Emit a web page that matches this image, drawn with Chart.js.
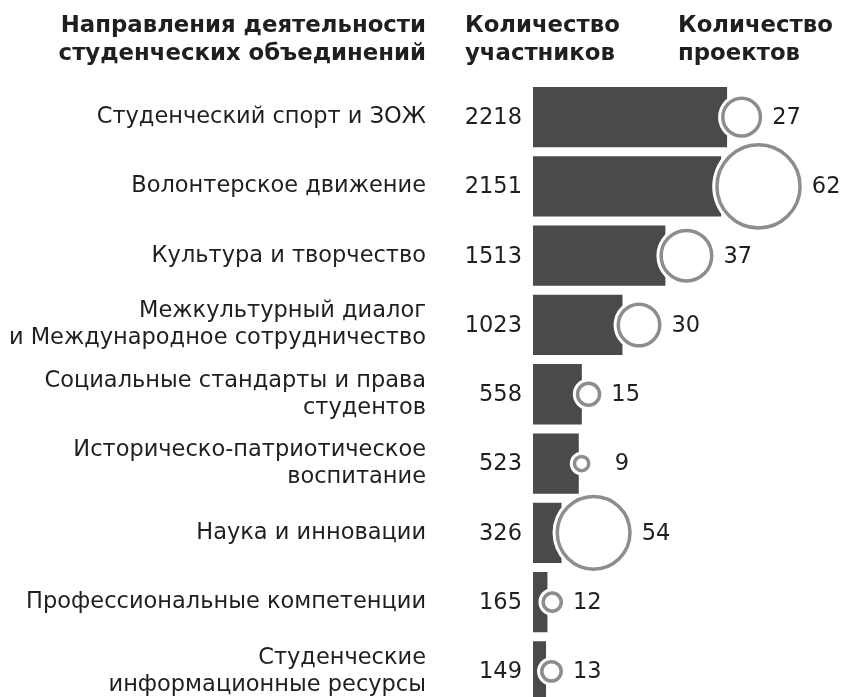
<!DOCTYPE html>
<html>
<head>
<meta charset="utf-8">
<script src="https://cdn.jsdelivr.net/npm/chart.js@4/dist/chart.umd.min.js"></script>
<style>
  html, body { margin: 0; padding: 0; background: #ffffff; overflow: hidden; }
  #wrap { width: 848px; height: 697px; overflow: hidden; }
  canvas { display: block; }
</style>
</head>
<body>
<div id="wrap"><canvas id="c" width="848" height="706"></canvas></div>
<script>
// ---- data ----
const categories = [
  'Студенческий спорт и ЗОЖ',
  'Волонтерское движение',
  'Культура и творчество',
  ['Межкультурный диалог', 'и Международное сотрудничество'],
  ['Социальные стандарты и права', 'студентов'],
  ['Историческо-патриотическое', 'воспитание'],
  'Наука и инновации',
  'Профессиональные компетенции',
  ['Студенческие', 'информационные ресурсы']
];
const participants = [2218, 2151, 1513, 1023, 558, 523, 326, 165, 149];
const projects = [27, 62, 37, 30, 15, 9, 54, 12, 13];
const headerCategory = ['Направления деятельности', 'студенческих объединений'];
const headerParticipants = ['Количество', 'участников'];
const headerProjects = ['Количество', 'проектов'];

// ---- styling ----
const FONT = "'DejaVu Sans', Verdana, sans-serif";
const TEXT = '#1f1f1f';
const BAR = '#4a4a4c';
const RING = '#8d8d8d';
const RING_W = 3.5;
const ringOuter = v => 3 + 0.65 * v;          // outer edge of grey ring
const ringShift = v => ringOuter(v) - 6;      // ring overlaps the bar end by 6px

const ringData = projects.map((v, i) => ({ x: participants[i], y: i, r: ringOuter(v) - RING_W / 2 }));
const haloData = projects.map((v, i) => ({ x: participants[i], y: i, r: ringOuter(v) + 3 }));

const shiftPlugin = {
  id: 'shift',
  afterDatasetsUpdate(chart) {
    chart.data.datasets.forEach((ds, di) => {
      if (ds.type !== 'bubble') return;
      const meta = chart.getDatasetMeta(di);
      meta.data.forEach((el, i) => { el.x += ringShift(projects[i]); });
    });
  }
};

const labelPlugin = {
  id: 'labels',
  afterDatasetsDraw(chart) {
    const ctx = chart.ctx;
    const xs = chart.scales.x, ys = chart.scales.y;
    ctx.save();
    ctx.fillStyle = TEXT;
    ctx.textBaseline = 'middle';
    ctx.font = '22.5px ' + FONT;
    const ringMeta = chart.getDatasetMeta(0);
    participants.forEach((v, i) => {
      const y = ys.getPixelForValue(i);
      ctx.textAlign = 'right';
      ctx.fillText(String(v), xs.getPixelForValue(0) - 11, y + 1);
      const el = ringMeta.data[i];
      ctx.textAlign = 'left';
      ctx.fillText(String(projects[i]).padStart(2, '\u2007'), el.x + ringOuter(projects[i]) + 10, y + 1);
    });
    // column headers
    ctx.font = 'bold 22.8px ' + FONT;
    ctx.textBaseline = 'alphabetic';
    const left = chart.chartArea.left;
    ctx.textAlign = 'right';
    headerCategory.forEach((t, k) => ctx.fillText(t, left - 107, 32 + k * 28));
    ctx.textAlign = 'left';
    headerParticipants.forEach((t, k) => ctx.fillText(t, left - 68, 32 + k * 28));
    headerProjects.forEach((t, k) => ctx.fillText(t, left + 145, 32 + k * 28));
    ctx.restore();
  }
};

new Chart(document.getElementById('c'), {
  data: {
    labels: categories,
    datasets: [
      { type: 'bubble', data: ringData, backgroundColor: '#ffffff', borderColor: RING, borderWidth: RING_W, order: 1 },
      { type: 'bubble', data: haloData, backgroundColor: '#ffffff', borderColor: '#ffffff', borderWidth: 0, order: 2 },
      { type: 'bar', data: participants, backgroundColor: BAR, borderWidth: 0,
        barPercentage: 0.87, categoryPercentage: 1, order: 3 }
    ]
  },
  options: {
    indexAxis: 'y',
    responsive: false,
    animation: false,
    events: [],
    layout: { autoPadding: false, padding: { top: 82.5, right: 0, bottom: 0, left: 0 } },
    plugins: { legend: { display: false }, tooltip: { enabled: false } },
    scales: {
      x: { type: 'linear', display: false, min: 0, max: 3600 },
      y: {
        type: 'category',
        offset: true,
        grid: { display: false, drawTicks: false },
        border: { display: false },
        afterFit(scale) { scale.width = 533; scale.paddingTop = 0; scale.paddingBottom = 0; },
        ticks: {
          autoSkip: false,
          padding: 107,
          color: TEXT,
          font: { family: FONT, size: 22.5, lineHeight: 1.2 }
        }
      }
    }
  },
  plugins: [shiftPlugin, labelPlugin]
});
</script>
</body>
</html>
